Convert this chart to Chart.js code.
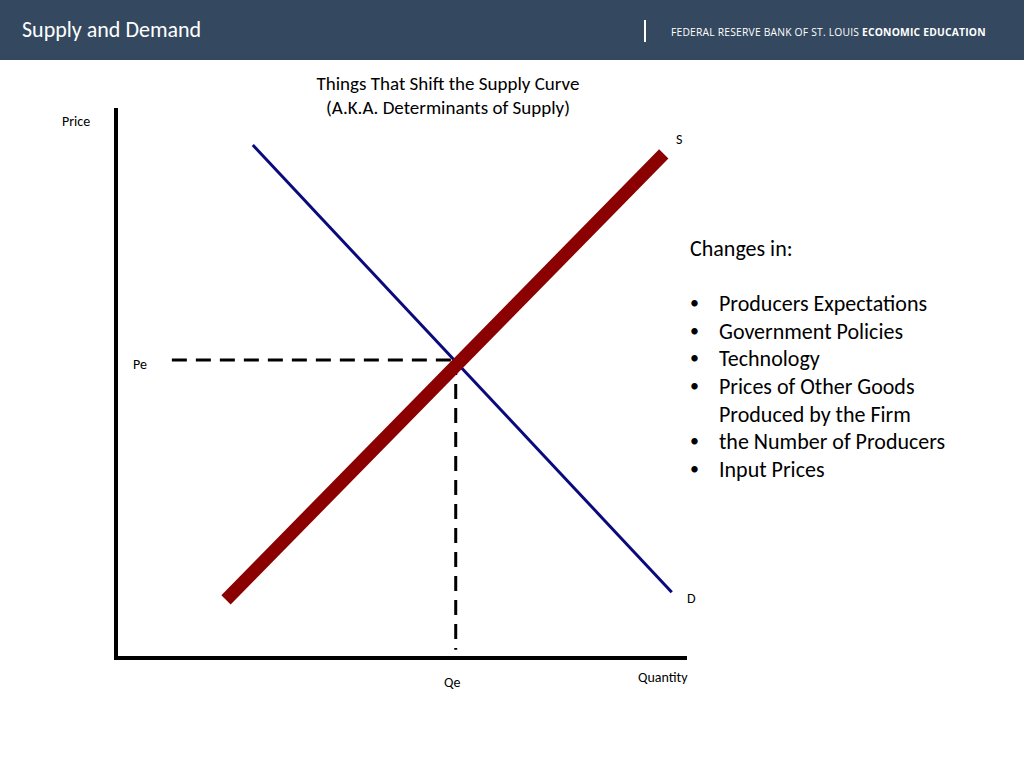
<!DOCTYPE html>
<html><head><meta charset="utf-8">
<script src="https://cdn.jsdelivr.net/npm/chart.js@4"></script>
<style>
body{margin:0;width:1024px;height:768px;background:#fff;font-family:Carlito,Lato,sans-serif;position:relative;overflow:hidden}
.hdr{position:absolute;left:0;top:0;width:1024px;height:60px;background:#34495f}
.t{position:absolute;white-space:nowrap}
ul{margin:0;padding:0;list-style:none}
</style></head><body>
<div class="hdr"></div>
<div class="t" style="left:22px;top:16px;color:#fff;font-size:22px">Supply and Demand</div>
<div class="t" style="left:644px;top:20px;width:2px;height:22px;background:#fff"></div>
<div class="t" style="left:671px;top:25px;color:#fff;font-size:10.3px;letter-spacing:0.2px;font-family:'Open Sans',sans-serif">FEDERAL RESERVE BANK OF ST. LOUIS <b>ECONOMIC EDUCATION</b></div>
<div class="t" style="left:248px;top:72px;width:400px;text-align:center;font-size:19px;line-height:24px">Things That Shift the Supply Curve<br>(A.K.A. Determinants of Supply)</div>
<div class="t" style="left:62px;top:113px;font-size:14px">Price</div>
<div class="t" style="left:133px;top:356px;font-size:14px">Pe</div>
<div class="t" style="left:444px;top:674px;font-size:14px">Qe</div>
<div class="t" style="left:638px;top:669px;font-size:14px">Quantity</div>
<div class="t" style="left:676px;top:131px;font-size:14px">S</div>
<div class="t" style="left:687px;top:590px;font-size:14px">D</div>
<div class="t" style="left:690px;top:235px;font-size:22px;line-height:27.6px">Changes in:<br><br>
<ul id="list"></ul></div>
<canvas id="c" style="position:absolute;left:98px;top:100px"></canvas>
<script>
const changes = ['Producers Expectations', 'Government Policies', 'Technology', 'Prices of Other Goods<br>Produced by the Firm', 'the Number of Producers', 'Input Prices'];
document.getElementById('list').innerHTML = changes.map(s => `<li style="display:flex"><span style="width:29px;font-size:18px">•</span><span>${s}</span></li>`).join('');

const supply = [{ x: 19.3, y: 10.6 }, { x: 96.1, y: 92.0 }];
const demand = [{ x: 24.0, y: 93.6 }, { x: 97.5, y: 12.0 }];
const eq = { x: 59.6, y: 54.4 };
const priceGuide = [{ x: 9.8, y: eq.y }, eq];
const qtyGuide = [eq, { x: eq.x, y: 1.5 }];

const cv = document.getElementById('c');
cv.width = 598; cv.height = 576;
new Chart(cv, {
    type: 'scatter',
    data: {
        datasets: [
            { data: supply, showLine: true, borderColor: '#8b0000', borderWidth: 13, pointRadius: 0, borderCapStyle: 'butt' },
            { data: demand, showLine: true, borderColor: '#0a0a7d', borderWidth: 3, pointRadius: 0 },
            { data: priceGuide, showLine: true, borderColor: '#000', borderWidth: 3, borderDash: [15, 9], pointRadius: 0 },
            { data: qtyGuide, showLine: true, borderColor: '#000', borderWidth: 3, borderDash: [15, 9], pointRadius: 0 }
        ]
    },
    options: {
        responsive: false, animation: false,
        layout: { padding: 10 },
        plugins: { legend: { display: false }, tooltip: { enabled: false } },
        scales: {
            x: { min: 0, max: 100, ticks: { display: false }, grid: { display: false }, border: { display: true, color: '#000', width: 4 } },
            y: { min: 0, max: 100, ticks: { display: false }, grid: { display: false }, border: { display: true, color: '#000', width: 4 } }
        }
    }
});
</script>
</body></html>
